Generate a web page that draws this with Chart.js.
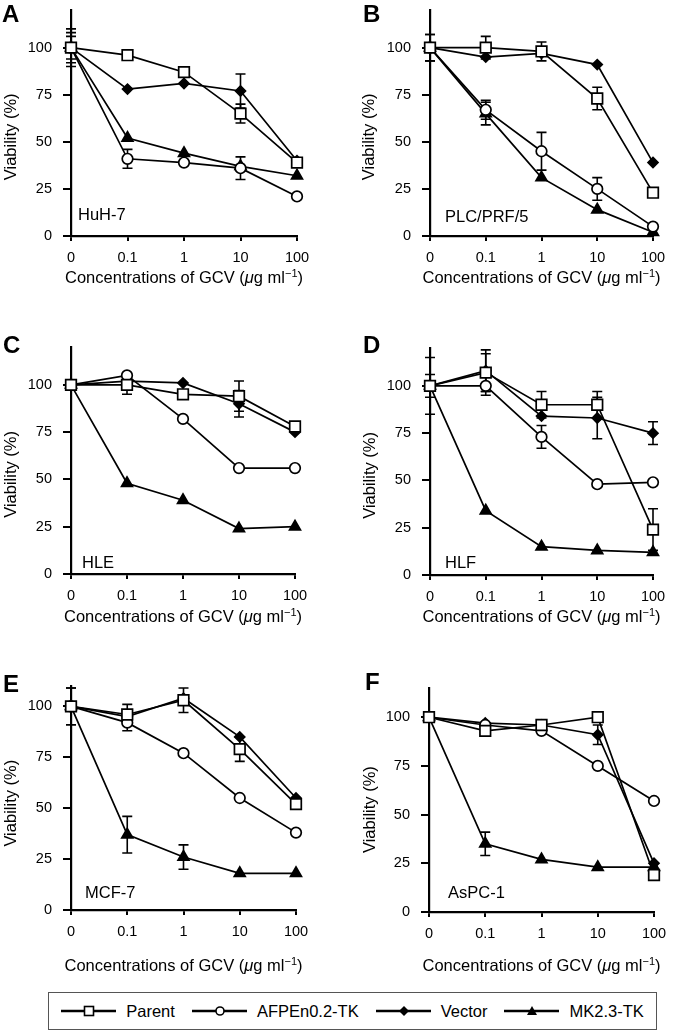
<!DOCTYPE html>
<html>
<head>
<meta charset="utf-8">
<script src="https://cdn.jsdelivr.net/npm/chart.js@4.4.1/dist/chart.umd.min.js"></script>
<style>
  html, body { margin: 0; padding: 0; background: #fff; }
  #page { position: relative; width: 673px; height: 1033px; overflow: hidden; background: #fff;
          font-family: 'Liberation Sans', Arial, Helvetica, sans-serif; }
  #page canvas { position: absolute; }
  #legend { position: absolute; left: 48px; top: 992px; width: 607px; height: 36px;
            border: 1.5px solid #555; display: flex; align-items: center; justify-content: center; gap: 17px; }
  .item { display: flex; align-items: center; font-size: 16.5px; color: #000; white-space: nowrap; }
  .item svg { margin-right: 10px; }
</style>
</head>
<body>
<div id="page">
  <div id="legend"></div>
</div>
<script>
const FONT = "'Liberation Sans', Arial, Helvetica, sans-serif";

const concLabels = ['0', '0.1', '1', '10', '100'];
const seriesNames = ['Parent', 'AFPEn0.2-TK', 'Vector', 'MK2.3-TK'];
const panelLetters = ['A', 'B', 'C', 'D', 'E', 'F'];
const cellLines = ['HuH-7', 'PLC/PRF/5', 'HLE', 'HLF', 'MCF-7', 'AsPC-1'];
const yMax = [120, 120, 120, 120, 110, 115];
const yTicks = [0, 25, 50, 75, 100];

// viability (%) at 0, 0.1, 1, 10, 100 ug/ml GCV
const parentA = [100, 96, 87, 65, 39];
const afpA    = [100, 41, 39, 36, 21];
const vectorA = [100, 78, 81, 77, 40];
const mkA     = [100, 52, 44, 37, 32];

const parentB = [100, 100, 98, 73, 23];
const afpB    = [100, 67, 45, 25, 5];
const vectorB = [100, 95, 97, 91, 39];
const mkB     = [100, 65, 31, 14, 2];

const parentC = [100, 100, 95, 94, 78];
const afpC    = [100, 105, 82, 56, 56];
const vectorC = [100, 102, 101, 90, 75];
const mkC     = [100, 48, 39, 24, 25];

const parentD = [100, 107, 90, 90, 24];
const afpD    = [100, 100, 73, 48, 49];
const vectorD = [100, 108, 84, 83, 75];
const mkD     = [100, 34, 15, 13, 12];

const parentE = [100, 96, 103, 79, 52];
const afpE    = [100, 92, 77, 55, 38];
const vectorE = [100, 95, 104, 85, 55];
const mkE     = [100, 37, 26, 18, 18];

const parentF = [100, 93, 96, 100, 19];
const afpF    = [100, 96, 93, 75, 57];
const vectorF = [100, 97, 96, 91, 25];
const mkF     = [100, 35, 27, 23, 23];

// error bars (+/-), 0 = none visible
const parentErrA = [8, 0, 0, 5, 0];
const afpErrA    = [0, 5, 0, 6, 0];
const vectorErrA = [6, 0, 0, 9, 0];
const mkErrA     = [10, 0, 0, 0, 0];

const parentErrB = [7, 6, 5, 6, 0];
const afpErrB    = [7, 5, 10, 6, 0];
const vectorErrB = [0, 0, 0, 0, 0];
const mkErrB     = [0, 6, 0, 0, 0];

const parentErrC = [0, 5, 0, 8, 0];
const afpErrC    = [0, 0, 0, 0, 0];
const vectorErrC = [0, 0, 0, 7, 0];
const mkErrC     = [0, 0, 0, 0, 0];

const parentErrD = [6, 10, 7, 7, 11];
const afpErrD    = [0, 5, 6, 0, 0];
const vectorErrD = [0, 11, 0, 11, 6];
const mkErrD     = [15, 0, 0, 0, 0];

const parentErrE = [9, 5, 6, 6, 0];
const afpErrE    = [9, 4, 0, 0, 0];
const vectorErrE = [0, 0, 0, 0, 0];
const mkErrE     = [0, 9, 6, 0, 0];

const parentErrF = [0, 0, 0, 0, 0];
const afpErrF    = [0, 0, 0, 0, 0];
const vectorErrF = [0, 0, 0, 5, 0];
const mkErrF     = [0, 6, 0, 0, 0];

const values = [
  [parentA, afpA, vectorA, mkA],
  [parentB, afpB, vectorB, mkB],
  [parentC, afpC, vectorC, mkC],
  [parentD, afpD, vectorD, mkD],
  [parentE, afpE, vectorE, mkE],
  [parentF, afpF, vectorF, mkF],
];
const errors = [
  [parentErrA, afpErrA, vectorErrA, mkErrA],
  [parentErrB, afpErrB, vectorErrB, mkErrB],
  [parentErrC, afpErrC, vectorErrC, mkErrC],
  [parentErrD, afpErrD, vectorErrD, mkErrD],
  [parentErrE, afpErrE, vectorErrE, mkErrE],
  [parentErrF, afpErrF, vectorErrF, mkErrF],
];

// marker look per series (same order as seriesNames)
const markers = [
  { style: 'rect',    radius: 7.5, fill: '#fff' },
  { style: 'circle',  radius: 5.3, fill: '#fff' },
  { style: 'rectRot', radius: 5,   fill: '#000' },
  { style: 'triangle',radius: 6.3, fill: '#000' },
];
// chart.js paints the first dataset last, so Parent ends up on top
const drawOrder = [0, 1, 2, 3];

// page geometry of each panel (absolute px)
const boxes = [
  { cx: 0,   cy: 0,   cw: 333, ch: 330, left: 71,  right: 297, top: 10,  bottom: 236, letter: [2, 22],   cell: [78, 220],  xTitle: 283, yTitle: 11 },
  { cx: 333, cy: 0,   cw: 340, ch: 330, left: 430, right: 653, top: 10,  bottom: 236, letter: [363, 22], cell: [445, 222], xTitle: 283, yTitle: 369 },
  { cx: 0,   cy: 330, cw: 333, ch: 330, left: 71,  right: 295, top: 347, bottom: 574, letter: [3, 353],  cell: [82, 568],  xTitle: 622, yTitle: 11 },
  { cx: 333, cy: 330, cw: 340, ch: 330, left: 430, right: 653, top: 348, bottom: 575, letter: [363, 353],cell: [445, 568], xTitle: 622, yTitle: 370 },
  { cx: 0,   cy: 660, cw: 333, ch: 330, left: 71,  right: 296, top: 686, bottom: 910, letter: [3, 692],  cell: [85, 898],  xTitle: 971, yTitle: 11 },
  { cx: 333, cy: 660, cw: 340, ch: 330, left: 429, right: 654, top: 688, bottom: 912, letter: [365, 690],cell: [448, 898], xTitle: 971, yTitle: 370 },
];

const errorBars = {
  id: 'errorBars',
  beforeDatasetsDraw(chart) {
    const ctx = chart.ctx;
    const y = chart.scales.y;
    ctx.save();
    ctx.strokeStyle = '#000';
    ctx.lineWidth = 1.6;
    chart.data.datasets.forEach((ds, di) => {
      const meta = chart.getDatasetMeta(di);
      ds.errors.forEach((e, i) => {
        if (!e) return;
        const px = meta.data[i].x;
        const hi = y.getPixelForValue(ds.data[i] + e);
        const lo = y.getPixelForValue(ds.data[i] - e);
        ctx.beginPath();
        ctx.moveTo(px, hi); ctx.lineTo(px, lo);
        ctx.moveTo(px - 5, hi); ctx.lineTo(px + 5, hi);
        ctx.moveTo(px - 5, lo); ctx.lineTo(px + 5, lo);
        ctx.stroke();
      });
    });
    ctx.restore();
  }
};

const panelText = {
  id: 'panelText',
  afterDraw(chart, args, opts) {
    const ctx = chart.ctx;
    const b = opts.box;
    const area = chart.chartArea;
    ctx.save();
    ctx.fillStyle = '#000';
    ctx.textAlign = 'left';
    ctx.textBaseline = 'alphabetic';
    ctx.font = 'bold 24px ' + FONT;
    ctx.fillText(opts.letter, b.letter[0] - b.cx, b.letter[1] - b.cy);
    ctx.font = '16.5px ' + FONT;
    ctx.fillText(opts.cell, b.cell[0] - b.cx, b.cell[1] - b.cy);

    // x title with italic mu and superscript -1
    const parts = [
      ['Concentrations of GCV (', '16.5px ' + FONT, 0],
      ['\u03bc', 'italic 16.5px ' + FONT, 0],
      ['g ml', '16.5px ' + FONT, 0],
      ['\u22121', '11px ' + FONT, -6],
      [')', '16.5px ' + FONT, 0],
    ];
    let total = 0;
    parts.forEach(p => { ctx.font = p[1]; total += ctx.measureText(p[0]).width; });
    let x = (area.left + area.right) / 2 - total / 2;
    const base = b.xTitle - b.cy;
    parts.forEach(p => {
      ctx.font = p[1];
      ctx.fillText(p[0], x, base + p[2]);
      x += ctx.measureText(p[0]).width;
    });

    // y title
    const ys = chart.scales.y;
    const yc = (ys.getPixelForValue(0) + ys.getPixelForValue(100)) / 2 - 5;
    ctx.translate(b.yTitle - b.cx, yc);
    ctx.rotate(-Math.PI / 2);
    ctx.textAlign = 'center';
    ctx.textBaseline = 'middle';
    ctx.font = '16.5px ' + FONT;
    ctx.fillText('Viability (%)', 0, 0);
    ctx.restore();
  }
};

const page = document.getElementById('page');

boxes.forEach((b, p) => {
  const canvas = document.createElement('canvas');
  canvas.width = b.cw;
  canvas.height = b.ch;
  canvas.style.left = b.cx + 'px';
  canvas.style.top = b.cy + 'px';
  page.appendChild(canvas);

  const datasets = drawOrder.map(s => ({
    label: seriesNames[s],
    data: values[p][s],
    errors: errors[p][s],
    borderColor: '#000',
    borderWidth: 1.7,
    pointStyle: markers[s].style,
    pointRadius: markers[s].radius,
    pointBackgroundColor: markers[s].fill,
    pointBorderColor: '#000',
    pointBorderWidth: 1.7,
    tension: 0,
    clip: false,
  }));

  const xAxisHeight = 40;

  new Chart(canvas, {
    type: 'line',
    data: { labels: concLabels, datasets },
    plugins: [errorBars, panelText],
    options: {
      responsive: false,
      animation: false,
      events: [],
      layout: {
        padding: {
          left: 0,
          top: b.top - b.cy,
          right: b.cx + b.cw - b.right,
          bottom: b.ch - xAxisHeight - (b.bottom - b.cy),
        }
      },
      plugins: {
        legend: { display: false },
        tooltip: { enabled: false },
        panelText: { box: b, letter: panelLetters[p], cell: cellLines[p] },
      },
      scales: {
        x: {
          type: 'category',
          offset: false,
          afterFit: s => { s.height = xAxisHeight; s.paddingLeft = 0; s.paddingRight = 0; },
          grid: { offset: false, drawOnChartArea: false, drawTicks: true, tickLength: 5, color: '#000', lineWidth: 2 },
          border: { display: true, color: '#000', width: 2.2 },
          ticks: { color: '#000', font: { size: 14.5, family: FONT }, padding: 8.5, maxRotation: 0, autoSkip: false },
        },
        y: {
          min: 0,
          max: yMax[p],
          afterBuildTicks: s => { s.ticks = yTicks.map(v => ({ value: v })); },
          afterFit: s => { s.width = b.left - b.cx; s.paddingTop = 0; s.paddingBottom = 0; },
          grid: { drawOnChartArea: false, drawTicks: true, tickLength: 8, color: '#000', lineWidth: 2 },
          border: { display: true, color: '#000', width: 2.2 },
          ticks: { color: '#000', font: { size: 14.5, family: FONT }, padding: 11 },
        }
      }
    }
  });
});

// legend box
function legendSymbol(m) {
  const cx = 28, cy = 8;
  let shape = '';
  if (m.style === 'rect') shape = `<rect x="${cx - 4.5}" y="${cy - 4.5}" width="9" height="9" fill="${m.fill}" stroke="#000" stroke-width="1.6"/>`;
  if (m.style === 'circle') shape = `<circle cx="${cx}" cy="${cy}" r="4" fill="${m.fill}" stroke="#000" stroke-width="1.6"/>`;
  if (m.style === 'rectRot') shape = `<polygon points="${cx - 5},${cy} ${cx},${cy - 5} ${cx + 5},${cy} ${cx},${cy + 5}" fill="#000"/>`;
  if (m.style === 'triangle') shape = `<polygon points="${cx - 5},${cy + 4} ${cx},${cy - 5} ${cx + 5},${cy + 4}" fill="#000"/>`;
  return `<svg width="55" height="16" viewBox="0 0 55 16"><line x1="0" y1="${cy}" x2="55" y2="${cy}" stroke="#000" stroke-width="2.6"/>${shape}</svg>`;
}
const legend = document.getElementById('legend');
seriesNames.forEach((name, s) => {
  const item = document.createElement('div');
  item.className = 'item';
  item.innerHTML = legendSymbol(markers[s]) + '<span>' + name + '</span>';
  legend.appendChild(item);
});
</script>
</body>
</html>
